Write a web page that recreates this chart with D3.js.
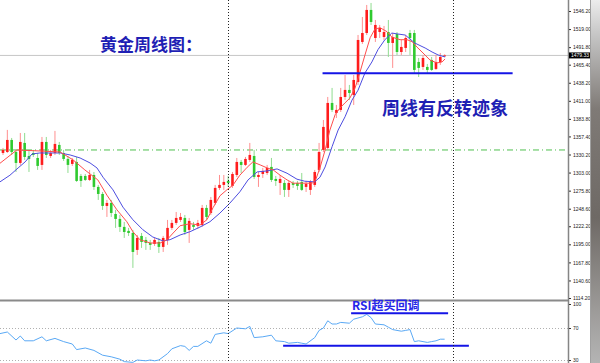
<!DOCTYPE html>
<html>
<head>
<meta charset="utf-8">
<script src="https://cdn.jsdelivr.net/npm/d3@7"></script>
<style>
  body { margin: 0; background: #fff; }
  svg { display: block; }
</style>
</head>
<body>
<div id="chart"></div>
<script>
// weekly gold candles (oldest first)
const opens = [1332.5,1334.0,1352.1,1334.0,1317.5,1347.6,1328.0,1332.5,1325.0,1314.5,
  1349.1,1328.0,1332.5,1344.6,1332.5,1323.5,1316.0,1319.0,1297.9,1297.9,
  1291.9,1299.4,1281.4,1270.8,1252.8,1257.3,1240.7,1233.2,1221.2,1215.2,
  1212.1,1186.6,1207.6,1201.6,1197.1,1195.6,1198.6,1191.1,1201.6,1219.7,
  1227.2,1231.7,1234.7,1216.7,1224.2,1222.7,1224.2,1249.8,1242.2,1257.3,
  1279.9,1284.4,1290.4,1282.9,1299.4,1319.0,1314.5,1322.0,1328.0,1296.4,
  1300.9,1302.4,1311.5,1293.4,1287.4,1287.4,1276.9,1287.4,1287.4,1288.9,
  1281.4,1276.9,1284.4,1307.0,1337.1,1340.1,1407.8,1392.7,1397.3,1416.8,
  1427.4,1419.8,1439.4,1499.6,1513.1,1547.8,1505.6,1514.6,1507.1,1514.6,
  1498.1,1511.6,1484.5,1490.6,1513.1,1513.1,1469.5,1462.0,1462.0,1472.5,
  1459.0,1469.5,1478.5];
const highs = [1340.1,1367.2,1355.1,1337.1,1362.6,1362.6,1337.1,1337.1,1332.5,1356.6,
  1356.6,1337.1,1365.7,1349.1,1337.1,1328.0,1325.0,1326.5,1300.9,1300.9,
  1307.0,1303.9,1284.4,1273.8,1261.8,1261.8,1246.8,1239.2,1228.7,1219.7,
  1216.7,1209.1,1212.1,1206.1,1201.6,1204.6,1204.6,1207.6,1231.7,1231.7,
  1243.7,1242.2,1239.2,1234.7,1228.7,1231.7,1254.3,1254.3,1266.3,1284.4,
  1299.4,1299.4,1297.9,1303.9,1325.0,1322.0,1326.5,1347.6,1337.1,1303.9,
  1310.0,1314.5,1325.0,1297.9,1299.4,1291.9,1290.4,1290.4,1290.4,1302.4,
  1290.4,1291.9,1307.0,1347.6,1382.2,1416.8,1430.4,1404.8,1430.4,1449.9,
  1434.9,1449.9,1510.1,1537.2,1555.3,1558.3,1532.7,1525.2,1523.7,1532.7,
  1513.1,1514.6,1502.6,1510.1,1517.7,1517.7,1475.5,1480.0,1466.5,1477.0,
  1480.0,1483.0,1481.0];
const lows = [1329.5,1332.5,1329.5,1303.9,1314.5,1322.0,1303.9,1326.5,1307.0,1307.0,
  1325.0,1325.0,1329.5,1329.5,1320.5,1302.4,1313.0,1288.9,1281.4,1290.4,
  1290.4,1276.9,1261.8,1246.8,1236.2,1236.2,1219.7,1213.6,1204.6,1207.6,
  1159.5,1179.0,1189.6,1186.6,1186.6,1192.6,1182.0,1183.5,1194.1,1216.7,
  1224.2,1228.7,1209.1,1197.1,1216.7,1218.2,1221.2,1231.7,1239.2,1254.3,
  1276.9,1276.9,1281.4,1279.9,1296.4,1302.4,1313.0,1319.0,1293.4,1281.4,
  1294.9,1299.4,1288.9,1282.9,1269.3,1266.3,1266.3,1279.9,1276.9,1275.4,
  1273.8,1269.3,1281.4,1303.9,1334.0,1337.1,1394.2,1385.2,1394.2,1412.3,
  1412.3,1404.8,1434.9,1496.6,1510.1,1525.2,1499.6,1505.6,1502.6,1477.0,
  1460.5,1480.0,1480.0,1484.5,1480.0,1452.9,1446.9,1457.5,1452.9,1456.0,
  1457.5,1465.0,1477.5];
const closes = [1337.1,1352.1,1334.0,1317.5,1349.1,1326.5,1323.5,1329.5,1313.0,1349.1,
  1329.5,1332.5,1346.1,1332.5,1323.5,1314.5,1322.0,1290.4,1290.4,1291.9,
  1299.4,1281.4,1270.8,1252.8,1257.3,1242.2,1233.2,1221.2,1213.6,1212.1,
  1183.5,1204.6,1198.6,1197.1,1194.1,1201.6,1191.1,1204.6,1219.7,1227.2,
  1234.7,1236.2,1213.6,1230.2,1221.2,1227.2,1249.8,1236.2,1261.8,1279.9,
  1284.4,1288.9,1287.4,1300.9,1319.0,1314.5,1323.5,1329.5,1296.4,1299.4,
  1305.5,1310.0,1291.9,1290.4,1293.4,1276.9,1287.4,1284.4,1282.9,1276.9,
  1285.9,1288.9,1303.9,1334.0,1371.7,1407.8,1397.3,1397.3,1416.8,1427.4,
  1422.8,1442.4,1502.6,1513.1,1547.8,1529.7,1525.2,1520.7,1514.6,1498.1,
  1507.1,1484.5,1492.1,1505.6,1505.6,1457.5,1460.5,1475.5,1457.5,1457.5,
  1469.5,1477.0,1479.33];

// moving averages: [candle index, price]
const maFast = [[-0.7,1317],[3.2,1337],[8.5,1335.5],[13.2,1334],[16.2,1322],[18.9,1307],
  [21.9,1292],[24,1269],[26.3,1247],[28.6,1229],[30,1214],[31.6,1202],[34,1197],
  [36.3,1197],[37.9,1202],[39.3,1212],[40.9,1223],[43.2,1226],[45.5,1224],[47.1,1232],
  [48.5,1250],[50.1,1268],[51.7,1277],[53.1,1284],[54.7,1299],[56.4,1311],[57.7,1319],
  [59.4,1314.5],[61,1310],[62.4,1307],[64,1299],[65.6,1292],[67,1287],[69.3,1287],
  [71.4,1287],[72.2,1292],[73.2,1310],[74.4,1337],[75.5,1367],[76.7,1390],[77.8,1400],
  [79,1408],[80.1,1415],[81.3,1430],[82.4,1453],[83.6,1480],[84.8,1506],[85.9,1519],
  [87.1,1521],[88.7,1515],[89.8,1507],[91.7,1503],[93.3,1503],[94.5,1500],[95.6,1492],
  [97,1483],[98.6,1472.5],[100.2,1468],[101.4,1469.5],[102.1,1474]];
const maSlow = [[-0.7,1289],[1.6,1299],[3.5,1310],[5.1,1319],[6.7,1331],[8.5,1332.5],
  [10.9,1332.5],[13.2,1332.5],[15.5,1329.5],[17.8,1325],[20.1,1317.5],[21.7,1310],
  [23.1,1296],[25.4,1277],[27.7,1251],[30,1232],[32.3,1217],[34.6,1206],[37,1200],
  [38.6,1202],[40.9,1209],[43.2,1214],[45.5,1221],[47.8,1229],[50.1,1242],[52.4,1257],
  [54.7,1274],[56.6,1292],[58.7,1304],[61,1305.5],[63.3,1308.5],[65.6,1302],[67.9,1293],
  [69.7,1290],[72,1289],[73.2,1296],[74.4,1311.5],[76,1342],[77.4,1367],[79,1387],
  [80.6,1412],[82,1427],[83.6,1453],[85.2,1469.5],[86.6,1488],[88.2,1503],[89.8,1513],
  [91.2,1511.6],[92.9,1510],[95.1,1498],[97.5,1490.5],[99.1,1484.5],[100.5,1480],[102.1,1477]];

// RSI line: [candle index, value]
const rsiPoints = [[-0.7,63],[1,65],[3,55],[4,60],[5,54],[7,54],[9,59],[10,54],[12,57],
  [14,53],[16,50],[17,43],[19,45],[21,42],[23,36],[25,34],[27,31],[28,28],[30,27],
  [31,30],[33,29],[34,30],[35,29],[36,30],[38,38],[39,44],[41,48],[42,47],[43,42],
  [44,47],[45,47],[47,54],[48,51],[49,62],[51,64],[52,63],[54,70],[56,69],[57,72],
  [58,58],[60,59],[62,61],[63,54],[65,53],[66,51],[68,52],[69,51],[70,50],[72,58],
  [73,67],[74,70],[75,79],[76,75],[77,75],[78,77],[80,76],[81,81],[83,84],[84,87],
  [85,83],[86,75],[88,74],[89,71],[90,68],[92,66],[93,67],[94,68],[95,53],[96,54],
  [98,52],[99,53],[100,54],[101,56],[102,56]];

const yTicks = [1546.2,1519.0,1491.8,1465.4,1438.2,1411.0,1383.8,1357.4,1330.2,
  1303.0,1275.8,1248.6,1222.2,1195.0,1167.8,1140.6,1114.2];
const rsiTicks = [100, 70, 30];
const periodBreaks = [52, 104];
const currentPrice = 1479.33;
const greenLevel = 1337;
const supportLine = {from: 73.8, to: 117.7, price: 1452.4};
const rsiLines = [{from: 80.4, to: 102.8, value: 88.4}, {from: 64.7, to: 107.6, value: 47.9}];

const W = 600, H = 363, plotRight = 568;

const svg = d3.select('#chart').append('svg')
  .attr('width', W).attr('height', H);

const x = d3.scaleLinear().domain([0, 104]).range([3, 453.3]);
const y = d3.scaleLinear().domain([1114.2, 1546.2]).range([298, 11]);
const rsiY = d3.scaleLinear().domain([30, 100]).range([360, 304]);

const defs = svg.append('defs');
defs.append('clipPath').attr('id', 'clipMain')
  .append('rect').attr('x', 0).attr('y', 0).attr('width', plotRight).attr('height', 300);
defs.append('clipPath').attr('id', 'clipRsi')
  .append('rect').attr('x', 0).attr('y', 301).attr('width', plotRight).attr('height', 62);

const grad = defs.append('linearGradient').attr('id', 'strip')
  .attr('x1', 0).attr('x2', 0).attr('y1', 0).attr('y2', 1);
[[0, '#ececec'], [0.1, '#c4c4c4'], [0.3, '#7f7a76'], [0.6, '#6e6965'], [0.85, '#9c9a98'], [1, '#b4b4b4']]
  .forEach(s => grad.append('stop').attr('offset', s[0]).attr('stop-color', s[1]));

// ---- main panel
const main = svg.append('g').attr('clip-path', 'url(#clipMain)');

main.append('line')
  .attr('x1', 0).attr('x2', plotRight)
  .attr('y1', y(currentPrice)).attr('y2', y(currentPrice))
  .attr('stroke', '#c6c6c6').attr('stroke-width', 1);

main.append('line')
  .attr('x1', 0).attr('x2', plotRight)
  .attr('y1', y(greenLevel)).attr('y2', y(greenLevel))
  .attr('stroke', '#4fbf4f').attr('stroke-width', 1)
  .attr('stroke-dasharray', '6,3,1,3');

const candles = opens.map((o, i) => ({i: i, o: o, h: highs[i], l: lows[i], c: closes[i]}));

const cg = main.selectAll('g.candle')
  .data(candles)
  .enter()
  .append('g')
  .attr('class', 'candle');

cg.append('line')
  .attr('x1', d => x(d.i)).attr('x2', d => x(d.i))
  .attr('y1', d => y(d.h)).attr('y2', d => y(d.l))
  .attr('stroke', d => d.c >= d.o ? '#ff8f8f' : '#8fdc8f')
  .attr('stroke-width', 1);

cg.append('rect')
  .attr('x', d => x(d.i) - 1.3)
  .attr('width', 2.6)
  .attr('y', d => y(Math.max(d.o, d.c)))
  .attr('height', d => Math.max(1, Math.abs(y(d.o) - y(d.c))))
  .attr('fill', d => d.c >= d.o ? '#ff1c1c' : '#2fca2f');

const maLine = d3.line().x(d => x(d[0])).y(d => y(d[1]));

main.append('path')
  .datum(maSlow)
  .attr('d', maLine)
  .attr('fill', 'none')
  .attr('stroke', '#4d4de0')
  .attr('stroke-width', 1);

main.append('path')
  .datum(maFast)
  .attr('d', maLine)
  .attr('fill', 'none')
  .attr('stroke', '#ff4d4d')
  .attr('stroke-width', 1);

main.append('line')
  .attr('x1', x(supportLine.from)).attr('x2', x(supportLine.to))
  .attr('y1', y(supportLine.price)).attr('y2', y(supportLine.price))
  .attr('stroke', '#1414e6').attr('stroke-width', 2);

// ---- RSI panel
const rsi = svg.append('g').attr('clip-path', 'url(#clipRsi)');

rsi.selectAll('line.lvl')
  .data([70, 30])
  .enter()
  .append('line')
  .attr('class', 'lvl')
  .attr('x1', 0).attr('x2', plotRight)
  .attr('y1', d => rsiY(d) + 0.5).attr('y2', d => rsiY(d) + 0.5)
  .attr('stroke', '#b0b0b0').attr('stroke-dasharray', '1,2');

rsi.append('path')
  .datum(rsiPoints)
  .attr('d', d3.line().x(d => x(d[0])).y(d => rsiY(d[1])))
  .attr('fill', 'none')
  .attr('stroke', '#5aa9f5')
  .attr('stroke-width', 1);

rsi.selectAll('line.mark')
  .data(rsiLines)
  .enter()
  .append('line')
  .attr('class', 'mark')
  .attr('x1', d => x(d.from)).attr('x2', d => x(d.to))
  .attr('y1', d => rsiY(d.value)).attr('y2', d => rsiY(d.value))
  .attr('stroke', '#1414e6').attr('stroke-width', 2);

// period separators through both panels
svg.selectAll('line.sep')
  .data(periodBreaks)
  .enter()
  .append('line')
  .attr('class', 'sep')
  .attr('x1', d => Math.round(x(d)) + 0.5).attr('x2', d => Math.round(x(d)) + 0.5)
  .attr('y1', 0).attr('y2', H)
  .attr('stroke', '#222').attr('stroke-dasharray', '1,2');

// panel border lines
svg.append('line')
  .attr('x1', 0).attr('x2', plotRight + 1)
  .attr('y1', 300.5).attr('y2', 300.5)
  .attr('stroke', '#8a8a8a').attr('stroke-width', 2);

svg.append('line')
  .attr('x1', plotRight + 0.5).attr('x2', plotRight + 0.5)
  .attr('y1', 0).attr('y2', H)
  .attr('stroke', '#858585').attr('stroke-width', 1.5);

// right price axis
const axisFont = '"Liberation Sans", Arial, sans-serif';
const yAxis = svg.append('g')
  .attr('transform', `translate(${plotRight + 1},0)`)
  .call(d3.axisRight(y).tickValues(yTicks).tickSize(2).tickPadding(2)
    .tickFormat(d3.format('.2f')));
yAxis.select('.domain').remove();
yAxis.selectAll('line').attr('stroke', '#333');
yAxis.selectAll('text').attr('font-size', 5).attr('font-family', axisFont).attr('fill', '#222');

const rsiAxis = svg.append('g')
  .attr('transform', `translate(${plotRight + 1},0)`)
  .call(d3.axisRight(rsiY).tickValues(rsiTicks).tickSize(2).tickPadding(2));
rsiAxis.select('.domain').remove();
rsiAxis.selectAll('line').attr('stroke', '#333');
rsiAxis.selectAll('text').attr('font-size', 5).attr('font-family', axisFont).attr('fill', '#222');

// current price tag
svg.append('rect')
  .attr('x', plotRight + 1).attr('y', y(currentPrice) - 3)
  .attr('width', 21).attr('height', 6)
  .attr('fill', '#000');
svg.append('text')
  .attr('x', plotRight + 3).attr('y', y(currentPrice) + 1.8)
  .attr('font-size', 5).attr('font-family', axisFont).attr('fill', '#fff')
  .text(currentPrice.toFixed(2));

// right background strip
svg.append('rect')
  .attr('x', 591).attr('y', 0).attr('width', 9).attr('height', H)
  .attr('fill', 'url(#strip)');
svg.append('line')
  .attr('x1', 590.5).attr('x2', 590.5).attr('y1', 0).attr('y2', H)
  .attr('stroke', '#a0a0a0');

// annotations
const cjk = '"Noto Sans CJK SC", "Noto Sans", sans-serif';
svg.append('text')
  .attr('x', 100).attr('y', 51)
  .attr('font-family', cjk).attr('font-weight', 'bold').attr('font-size', 17)
  .attr('fill', '#1f1fb4')
  .text('黄金周线图：');

svg.append('text')
  .attr('x', 382).attr('y', 115)
  .attr('font-family', cjk).attr('font-weight', 'bold').attr('font-size', 18)
  .attr('fill', '#1f1fb4')
  .text('周线有反转迹象');

svg.append('text')
  .attr('x', 352).attr('y', 310)
  .attr('font-family', cjk).attr('font-weight', 'bold').attr('font-size', 12)
  .attr('fill', '#2525e8')
  .text('RSI超买回调');
</script>
</body>
</html>
